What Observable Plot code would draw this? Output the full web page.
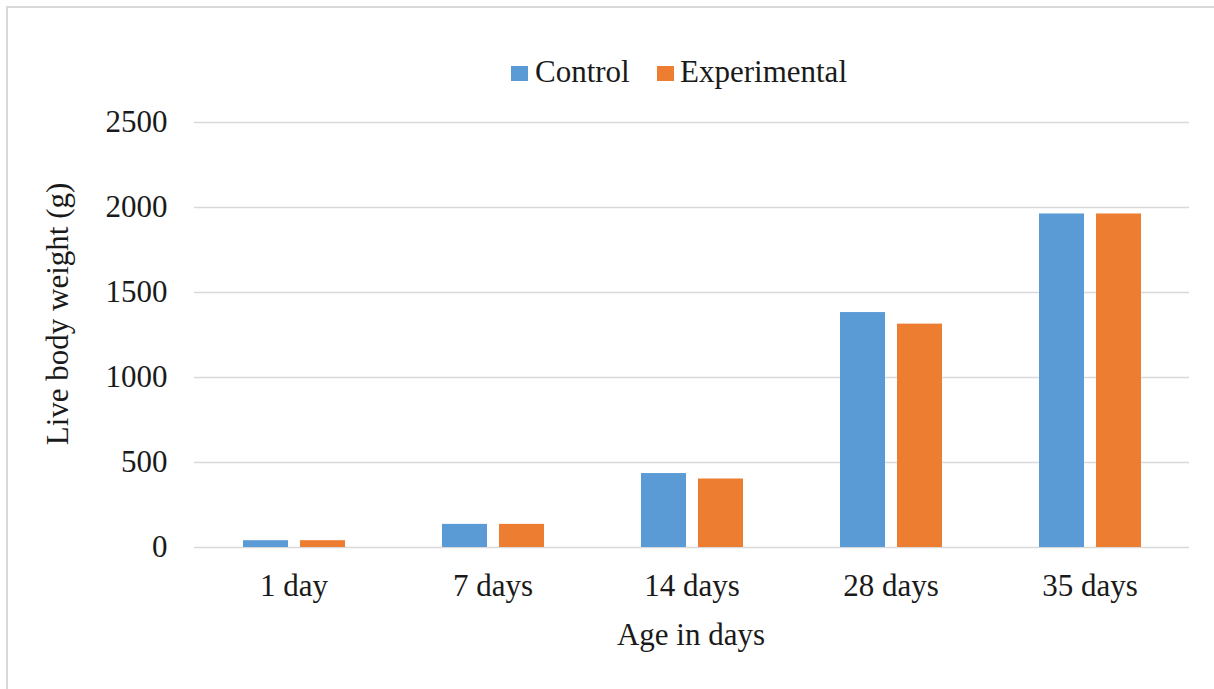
<!DOCTYPE html>
<html>
<head>
<meta charset="utf-8">
<script src="https://cdn.jsdelivr.net/npm/d3@7"></script>
<script src="https://cdn.jsdelivr.net/npm/@observablehq/plot@0.6"></script>
<style>
  html, body { margin: 0; padding: 0; background: #fff; }
  #wrap { position: relative; width: 1214px; height: 689px; overflow: hidden; }
  #frame { position: absolute; left: 6px; top: 6px; right: -10px; bottom: -10px;
           border-left: 2px solid #d9d9d9; border-top: 2px solid #d9d9d9; pointer-events: none; }
  #chart svg text { font-family: "Liberation Serif", "Times New Roman", serif; font-size: 31px; fill: #1a1a1a; }
</style>
</head>
<body>
<div id="wrap"><div id="chart"></div><div id="frame"></div></div>
<script>
const categories = ["1 day", "7 days", "14 days", "28 days", "35 days"];
const seriesNames = ["Control", "Experimental"];
const controlValues = [40, 136, 435, 1382, 1962];
const experimentalValues = [40, 136, 403, 1314, 1962];
const yTicks = [0, 500, 1000, 1500, 2000, 2500];
const colors = ["#5b9bd5", "#ed7d31"];

const data = [];
categories.forEach((c, i) => {
  data.push({category: c, series: seriesNames[0], value: controlValues[i]});
  data.push({category: c, series: seriesNames[1], value: experimentalValues[i]});
});

const W = 1214, H = 689;
const mL = 193, mR = 25, mT = 122, mB = 142;

const chart = Plot.plot({
  width: W,
  height: H,
  marginLeft: mL,
  marginRight: mR,
  marginTop: mT,
  marginBottom: mB,
  style: {fontFamily: "Liberation Serif", fontSize: "31px", background: "transparent"},
  fx: {domain: categories, paddingInner: 0, paddingOuter: 0, axis: "bottom", label: null, tickSize: 0, tickPadding: 26},
  x: {domain: seriesNames, paddingInner: 0.21875, paddingOuter: 0.8385, axis: null},
  y: {domain: [0, 2500], ticks: yTicks, tickFormat: d => String(d), tickSize: 0, tickPadding: 27, label: null},
  color: {domain: seriesNames, range: colors},
  marks: [
    Plot.ruleY(yTicks, {stroke: "#d9d9d9", strokeWidth: 1.3}),
    Plot.barY(data, {fx: "category", x: "series", y: "value", fill: "series"})
  ]
});

document.getElementById("chart").appendChild(chart);

const svg = d3.select(chart);
// Y axis title
svg.append("text")
  .attr("transform", `translate(68,314) rotate(-90)`)
  .attr("text-anchor", "middle")
  .text("Live body weight (g)");
// X axis title
svg.append("text")
  .attr("x", mL + (W - mL - mR) / 2)
  .attr("y", 645)
  .attr("text-anchor", "middle")
  .text("Age in days");
// Legend
const legendItems = [
  {name: seriesNames[0], sx: 511, tx: 535, color: colors[0]},
  {name: seriesNames[1], sx: 657, tx: 680, color: colors[1]}
];
legendItems.forEach(d => {
  svg.append("rect").attr("x", d.sx).attr("y", 66).attr("width", 17).attr("height", 15).attr("fill", d.color);
  svg.append("text").attr("x", d.tx).attr("y", 82).attr("text-anchor", "start").text(d.name);
});
</script>
</body>
</html>
